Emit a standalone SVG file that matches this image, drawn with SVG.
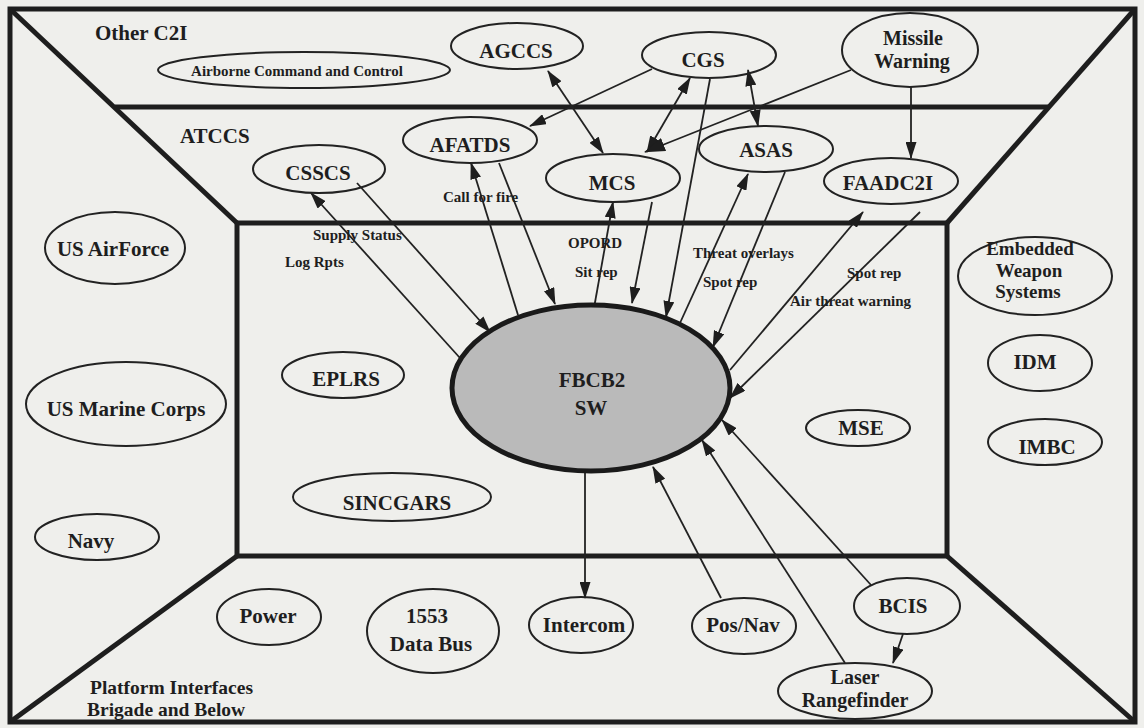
<svg xmlns="http://www.w3.org/2000/svg" width="1144" height="728" viewBox="0 0 1144 728">
<style>
.frame{fill:none;stroke:#1e1e1e;stroke-width:5;stroke-linejoin:miter}
.node{fill:none;stroke:#222;stroke-width:2}
.t{font-family:"Liberation Serif","Times New Roman",serif;font-weight:bold;font-size:21px;fill:#1e1e1e;text-anchor:middle}
.m{font-size:20px}
.title{font-family:"Liberation Serif","Times New Roman",serif;font-weight:bold;font-size:21px;fill:#1e1e1e}
.small{font-family:"Liberation Serif","Times New Roman",serif;font-weight:bold;font-size:15px;fill:#1e1e1e}
.c{fill:none;stroke:#222;stroke-width:1.8}
.a{marker-end:url(#ah)}
.b{marker-end:url(#ah);marker-start:url(#ah)}
.big{marker-end:url(#ahb)}
</style>
<defs>
<marker id="ah" markerUnits="userSpaceOnUse" markerWidth="17" markerHeight="11" refX="16" refY="5.5" orient="auto-start-reverse" viewBox="0 0 17 11">
<path d="M0,0 L17,5.5 L0,11 z" fill="#1e1e1e"/>
</marker>
<marker id="ahb" markerUnits="userSpaceOnUse" markerWidth="21" markerHeight="14" refX="20" refY="7" orient="auto-start-reverse" viewBox="0 0 21 14">
<path d="M0,0 L21,7 L0,14 z" fill="#1e1e1e"/>
</marker>
</defs>
<rect x="0" y="0" width="1144" height="728" fill="#efefec"/>
<g id="frame">
<rect class="frame" x="10" y="9" width="1125" height="713"/>
<rect class="frame" x="237" y="223" width="710" height="333"/>
<line class="frame" x1="10" y1="9" x2="237" y2="223"/>
<line class="frame" x1="1135" y1="9" x2="947" y2="223"/>
<line class="frame" x1="10" y1="722" x2="237" y2="556"/>
<line class="frame" x1="1135" y1="722" x2="947" y2="556"/>
<line class="frame" x1="115" y1="107" x2="1048" y2="107"/>
<text class="title" x="95" y="40">Other C2I</text>
<text class="title" x="180" y="143">ATCCS</text>
<text class="title" x="90" y="694" style="font-size:19.5px">Platform Interfaces</text>
<text class="title" x="87" y="716" style="font-size:19.5px">Brigade and Below</text>
</g>
<g id="connectors">
<path class="c a" d="M460,358 L311,193"/>
<path class="c a" d="M357,183 L490,332"/>
<path class="c a" d="M518,315 L471,163"/>
<path class="c a" d="M499,163 L555,304"/>
<path class="c a" d="M594,308 L613,202"/>
<path class="c a" d="M652,202 L632,303"/>
<path class="c a" d="M710,79 L666,317"/>
<path class="c a" d="M652,69 L530,126"/>
<path class="c b" d="M690,78 L647,152"/>
<path class="c b" d="M548,71 L603,153"/>
<path class="c big" d="M851,70 L645,152"/>
<path class="c b" d="M758,126 L748,70"/>
<path class="c a" d="M911,87 L911,158"/>
<path class="c a" d="M680,323 L748,174"/>
<path class="c a" d="M785,172 L713,347"/>
<path class="c a" d="M730,370 L863,212"/>
<path class="c a" d="M920,212 L730,398"/>
<path class="c a" d="M585,472 L585,598"/>
<path class="c a" d="M721,598 L653,467"/>
<path class="c a" d="M845,663 L702,440"/>
<path class="c a" d="M871,585 L722,420"/>
<path class="c a" d="M903,634 L893,663"/>
<text class="small" x="443" y="202">Call for fire</text>
<text class="small" x="313" y="240">Supply Status</text>
<text class="small" x="285" y="267">Log Rpts</text>
<text class="small" x="568" y="248">OPORD</text>
<text class="small" x="575" y="277">Sit rep</text>
<text class="small" x="693" y="258">Threat overlays</text>
<text class="small" x="703" y="287">Spot rep</text>
<text class="small" x="847" y="278">Spot rep</text>
<text class="small" x="790" y="306">Air threat warning</text>
</g>
<g id="airborne"><ellipse class="node" cx="304" cy="70" rx="146" ry="18"/><text class="small" x="297" y="76" text-anchor="middle">Airborne Command and Control</text></g>
<g id="agccs"><ellipse class="node" cx="517" cy="46" rx="66" ry="23"/><text class="t" x="516" y="58">AGCCS</text></g>
<g id="cgs"><ellipse class="node" cx="709" cy="55" rx="67" ry="23"/><text class="t" x="703" y="67">CGS</text></g>
<g id="missile"><ellipse class="node" cx="910" cy="50" rx="68" ry="37"/><text class="t m" x="913" y="45">Missile</text><text class="t m" x="912" y="68">Warning</text></g>
<g id="csscs"><ellipse class="node" cx="319" cy="169" rx="66" ry="24"/><text class="t" x="318" y="180">CSSCS</text></g>
<g id="afatds"><ellipse class="node" cx="470" cy="140" rx="67" ry="23"/><text class="t" x="470" y="152">AFATDS</text></g>
<g id="mcs"><ellipse class="node" cx="613" cy="178" rx="67" ry="24"/><text class="t" x="612" y="190">MCS</text></g>
<g id="asas"><ellipse class="node" cx="766" cy="149" rx="67" ry="23"/><text class="t" x="766" y="157">ASAS</text></g>
<g id="faadc2i"><ellipse class="node" cx="891" cy="181" rx="67" ry="23"/><text class="t" x="888" y="190">FAADC2I</text></g>
<g id="usaf"><ellipse class="node" cx="115" cy="248" rx="70" ry="36"/><text class="t" x="113" y="256">US AirForce</text></g>
<g id="usmc"><ellipse class="node" cx="126" cy="404" rx="100" ry="42"/><text class="t" x="126" y="416">US Marine Corps</text></g>
<g id="navy"><ellipse class="node" cx="97" cy="537" rx="62" ry="23"/><text class="t" x="91" y="548">Navy</text></g>
<g id="embedded"><ellipse class="node" cx="1035" cy="276" rx="77" ry="39"/><text class="t" style="font-size:19px" x="1030" y="255">Embedded</text><text class="t" style="font-size:19px" x="1029" y="276.5">Weapon</text><text class="t" style="font-size:19px" x="1028" y="298">Systems</text></g>
<g id="idm"><ellipse class="node" cx="1040" cy="363" rx="52" ry="28"/><text class="t" x="1035" y="369">IDM</text></g>
<g id="imbc"><ellipse class="node" cx="1045" cy="442" rx="57" ry="23"/><text class="t" x="1047" y="454">IMBC</text></g>
<g id="eplrs"><ellipse class="node" cx="343" cy="375" rx="61" ry="23"/><text class="t" x="346" y="386">EPLRS</text></g>
<g id="sincgars"><ellipse class="node" cx="392" cy="497" rx="99" ry="24"/><text class="t" x="397" y="510">SINCGARS</text></g>
<g id="mse"><ellipse class="node" cx="858" cy="428" rx="52" ry="18"/><text class="t" x="861" y="435">MSE</text></g>
<g id="fbcb2"><ellipse cx="591" cy="388" rx="139" ry="83" fill="#bababa" stroke="#1a1a1a" stroke-width="5"/><text class="t" x="592" y="387">FBCB2</text><text class="t" x="591" y="415">SW</text></g>
<g id="power"><ellipse class="node" cx="269" cy="617" rx="52" ry="28"/><text class="t" x="268" y="623">Power</text></g>
<g id="databus"><ellipse class="node" cx="433" cy="631" rx="66" ry="42"/><text class="t" x="427" y="623">1553</text><text class="t" x="431" y="651">Data Bus</text></g>
<g id="intercom"><ellipse class="node" cx="581" cy="625" rx="52" ry="28"/><text class="t" x="584" y="632">Intercom</text></g>
<g id="posnav"><ellipse class="node" cx="744" cy="626" rx="52" ry="28"/><text class="t" x="743" y="632">Pos/Nav</text></g>
<g id="bcis"><ellipse class="node" cx="907" cy="606" rx="53" ry="28"/><text class="t" x="903" y="613">BCIS</text></g>
<g id="laser"><ellipse class="node" cx="855" cy="691" rx="77" ry="28"/><text class="t m" x="855" y="684">Laser</text><text class="t m" x="855" y="707">Rangefinder</text></g>
</svg>
